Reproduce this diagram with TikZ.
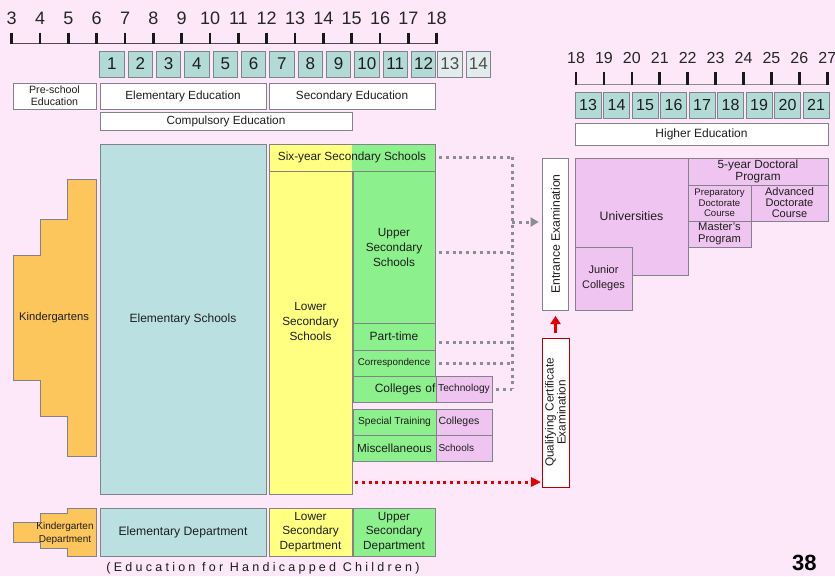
\documentclass[tikz,border=0pt]{standalone}
\usepackage{fontspec}
\setmainfont{Liberation Sans}
\usetikzlibrary{arrows.meta}
\definecolor{bg}{RGB}{252,232,248}
\definecolor{cTeal}{RGB}{186,224,226}
\definecolor{cGrade}{RGB}{178,218,214}
\definecolor{cGradeL}{RGB}{226,236,236}
\definecolor{cYel}{RGB}{255,255,130}
\definecolor{cGrn}{RGB}{140,240,140}
\definecolor{cPink}{RGB}{240,196,240}
\definecolor{cOrg}{RGB}{252,198,92}
\definecolor{edge}{RGB}{130,130,140}
\definecolor{txt}{RGB}{30,30,30}
\definecolor{dotgray}{RGB}{140,140,150}
\definecolor{dotred}{RGB}{228,0,0}
\newcommand{\fsz}[2]{\fontsize{#1}{#2}\selectfont}
\newcommand{\bx}[6]{\node[#6,anchor=north west,minimum width={(#4-#2)*1pt},minimum height={(#5-#3)*1pt}] (#1) at (#2,#3)}
\tikzset{
  box/.style={draw=edge, line width=0.8pt, inner sep=0pt, outer sep=0pt, align=center, text=txt, font=\fsz{11.8}{14}},
  wbox/.style={box, fill=white},
  tbox/.style={box, fill=cTeal},
  ybox/.style={box, fill=cYel},
  gbox/.style={box, fill=cGrn},
  pbox/.style={box, fill=cPink},
  obox/.style={draw=edge, line width=0.8pt, fill=cOrg},
  gradebox/.style={box, fill=cGrade, font=\fsz{17}{17}, minimum height=26pt, anchor=north west},
  num/.style={inner sep=0pt, text=black!85, font=\fsz{18}{18}},
  numr/.style={inner sep=0pt, text=black!85, font=\fsz{16}{16}},
  tick/.style={line width=2.6pt, black!90},
  graydot/.style={draw=dotgray, line width=3pt, dash pattern=on 3pt off 3.8pt},
  reddot/.style={draw=dotred, line width=3pt, dash pattern=on 3pt off 3.8pt},
  lab/.style={inner sep=0pt, align=center, text=txt, font=\fsz{11.8}{14}}
}
\begin{document}
\begin{tikzpicture}[x=1pt,y=-1pt]
\fill[bg] (0,0) rectangle (835,576);
\useasboundingbox (0,0) rectangle (835,576);

% ---- left age scale
\draw[line width=1pt, black!70] (11.7,43.5) -- (436.7,43.5);
\foreach \a [count=\i from 0] in {3,...,18} {
  \pgfmathsetmacro\xx{11.7+28.333*\i}
  \draw[tick] (\xx,32.5) -- (\xx,44);
  \node[num] (a\a) at (\xx,18) {\a};
}
\foreach \k in {1,...,12} {
  \pgfmathsetmacro\xl{11.7+28.333*(\k+2)+3}
  \node[gradebox, minimum width=24.5pt] (g\k) at (\xl,51) {\k};
}
\foreach \k in {13,14} {
  \pgfmathsetmacro\xl{11.7+28.333*(\k+2)+1}
  \node[gradebox, fill=cGradeL, text=black!70, minimum width=24.5pt] (g\k) at (\xl,51) {\k};
}

% ---- right age scale
\draw[line width=0.8pt, black!45] (576,84.5) -- (827.3,84.5);
\foreach \a [count=\i from 0] in {18,...,27} {
  \pgfmathsetmacro\xx{576+27.92*\i}
  \draw[tick] (\xx,72) -- (\xx,84.5);
  \node[numr] (b\a) at (\xx,58) {\a};
}
\foreach \k [count=\i from 0] in {13,...,21} {
  \pgfmathsetmacro\xl{575+28.5*\i}
  \node[gradebox, font=\fsz{16}{16}, minimum width=26pt] (h\k) at (\xl,92) {\k};
}

% ---- stage boxes
\bx{pre}{13}{83}{96}{109}{wbox, font=\fsz{10.6}{11.8}} {Pre-school\\Education};
\bx{elemedu}{100}{83}{266}{109}{wbox} {Elementary Education};
\bx{secedu}{269}{83}{435}{109}{wbox} {Secondary Education};
\bx{compedu}{100}{112}{352}{130}{wbox} {Compulsory Education};
\bx{higher}{575}{123}{828}{145}{wbox, font=\fsz{12}{14}} {Higher Education};

% ---- kindergartens
\draw[obox] (96,179.3) -- (67.7,179.3) -- (67.7,219.3) -- (40,219.3) -- (40,255) -- (13.3,255)
  -- (13.3,380.7) -- (40,380.7) -- (40,416.7) -- (67.7,416.7) -- (67.7,456.7) -- (96,456.7) -- cycle;
\node[lab, font=\fsz{11.2}{13}] (kg) at (54,318) {Kindergartens};

% ---- schools
\bx{elem}{100}{144}{266}{494}{tbox, font=\fsz{12}{14}} {Elementary Schools};
\fill[cYel] (269,144) rectangle (352,171);
\fill[cGrn] (352,144) rectangle (435,171);
\bx{six}{269}{144}{435}{171}{box, font=\fsz{11.8}{13}} {Six-year Secondary Schools};
\bx{lowersec}{269}{171}{352}{494}{ybox, label={[lab, font=\fsz{11.8}{15}, yshift=11pt]center:Lower\\Secondary\\Schools}} {};
\bx{uppersec}{353}{171}{435}{323}{gbox, font=\fsz{11.8}{15}} {Upper\\Secondary\\Schools};
\bx{parttime}{353}{323}{435}{350}{gbox, font=\fsz{12}{14}, text depth=-3pt} {Part-time};
\bx{corr}{353}{350}{435}{376}{gbox, font=\fsz{9.8}{11}} {Correspondence};
\bx{colltech}{353}{376}{436}{402}{gbox, font=\fsz{12}{13}, text width=82pt, align=right} {Colleges of};
\bx{tech}{436}{376}{492}{402}{pbox, font=\fsz{10.2}{12}} {Technology};
\bx{spec}{353}{409}{436}{435}{gbox, font=\fsz{10.2}{12}} {Special Training};
\bx{speccoll}{436}{409}{492}{435}{pbox, font=\fsz{10.5}{12}, text width=51pt, align=left} {Colleges};
\bx{misc}{353}{435}{436}{461}{gbox, font=\fsz{11.8}{13}} {Miscellaneous};
\bx{miscsch}{436}{435}{492}{461}{pbox, font=\fsz{10}{12}, text width=51pt, align=left} {Schools};

% ---- examinations
\node[wbox, rotate=90, minimum width=152pt, minimum height=25.6pt, font=\fsz{12.2}{13}] (entr) at (555.5,234) {Entrance Examination};
\node[wbox, draw=red!70!black, rotate=90, minimum width=149pt, minimum height=27pt, font=\fsz{11.8}{12}] (qual) at (555.5,412.5) {Qualifying Certificate\\Examination};

% ---- higher education
\bx{univ}{575}{158}{688}{275}{pbox, font=\fsz{12.3}{13}, text depth=-2pt} {Universities};
\bx{junior}{575}{247}{632}{310}{pbox, font=\fsz{11}{15}} {Junior\\Colleges};
\bx{fiveyr}{688}{158}{828}{185}{pbox, font=\fsz{11.8}{11.8}} {5-year Doctoral\\Program};
\bx{prep}{688}{185}{751}{221}{pbox, font=\fsz{9.6}{10.3}} {Preparatory\\Doctorate\\Course};
\bx{adv}{751}{185}{828}{221}{pbox, font=\fsz{11}{11}} {Advanced\\Doctorate\\Course};
\bx{masters}{688}{221}{751}{247}{pbox, font=\fsz{11.2}{11.8}} {Master's\\Program};

% ---- handicapped children row
\draw[obox] (96,508.3) -- (67.7,508.3) -- (67.7,513.3) -- (40,513.3) -- (40,522.7) -- (13.3,522.7)
  -- (13.3,542.3) -- (40,542.3) -- (40,548.3) -- (67.7,548.3) -- (67.7,556) -- (96,556) -- cycle;
\node[lab, font=\fsz{10}{13}] (kd) at (65,533) {Kindergarten\\Department};
\bx{elemdep}{100}{508}{266}{556}{tbox, font=\fsz{12.2}{13}} {Elementary Department};
\bx{lowdep}{269}{508}{352}{556}{ybox, font=\fsz{11.8}{14.5}} {Lower\\Secondary\\Department};
\bx{updep}{353}{508}{435}{556}{gbox, font=\fsz{11.8}{14.5}} {Upper\\Secondary\\Department};
\node[lab, font=\fsz{12.5}{13}\addfontfeature{LetterSpace=26}] (hc) at (263,568.5) {(Education for Handicapped Children)};

% ---- connectors
\coordinate (jt) at (512,157);
\coordinate (ja) at (512,222);
\coordinate (jb) at (512,389);
\draw[graydot] (jt) -- (jb);
\draw[graydot, shorten <=4pt] (six.east) -- (six.east -| jt);
\draw[graydot, shorten <=4pt] ([yshift=-5pt]uppersec.east) -- ([yshift=-5pt]uppersec.east -| jt);
\draw[graydot, shorten <=4pt] ([yshift=-6pt]parttime.east) -- ([yshift=-6pt]parttime.east -| jt);
\draw[graydot, shorten <=4pt] (corr.east) -- (corr.east -| jt);
\draw[graydot, shorten <=4pt] (tech.east) -- (tech.east -| jt);
\draw[graydot, -{Triangle[length=8pt,width=9pt]}, shorten >=4pt] (ja) -- (ja -| entr.north);
\draw[reddot, -{Triangle[length=10pt,width=9pt]}, shorten <=3pt, shorten >=1pt] ([yshift=12pt]lowersec.south east) -- ([yshift=12pt]lowersec.south east -| qual.north);
\draw[dotred, line width=2.8pt, -{Triangle[length=8pt,width=10pt]}, shorten <=5pt, shorten >=6pt] (qual.east) -- (entr.west);

% ---- page number
\node[anchor=base west, inner sep=0pt, font=\fsz{22}{22}\bfseries] (pg) at (792,570) {38};
\end{tikzpicture}
\end{document}
